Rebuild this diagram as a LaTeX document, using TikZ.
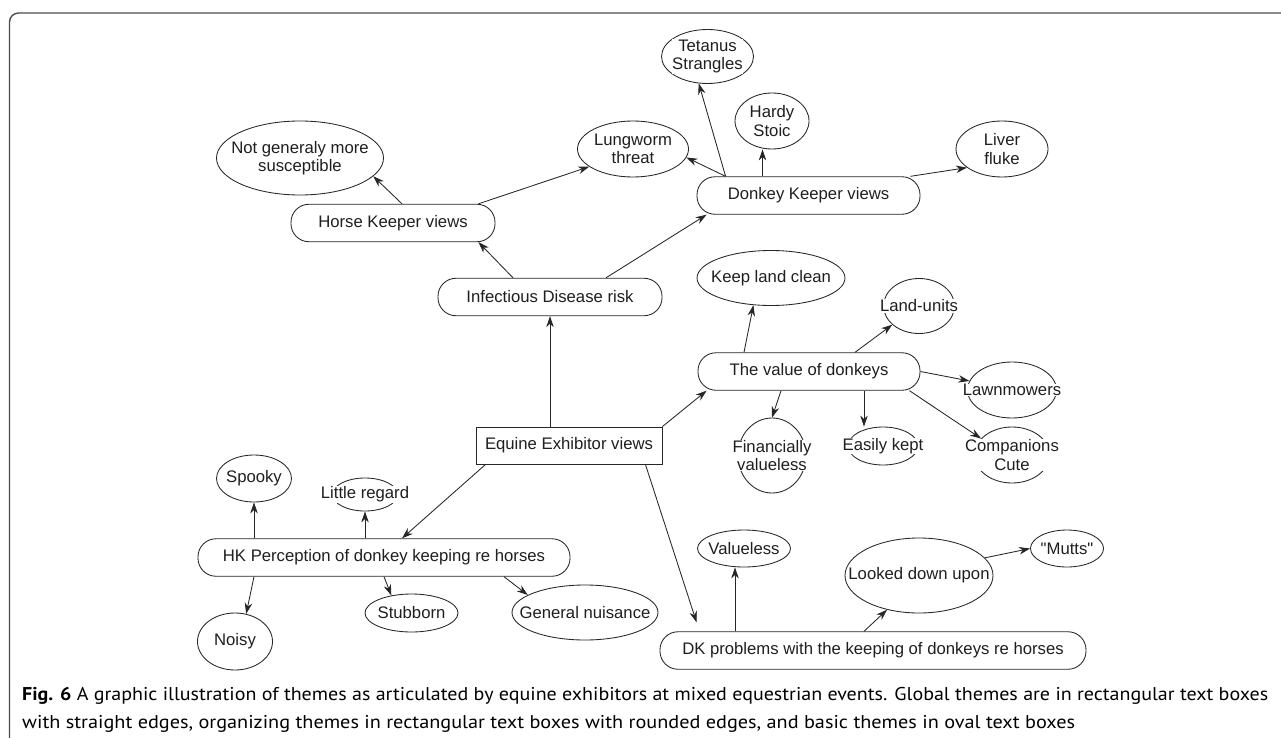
\documentclass[tikz,border=0pt]{standalone}
\usepackage{fontspec}
\usepackage{graphicx}
\setmainfont{Liberation Sans}
\newfontfamily\qfont{Liberation Sans}
\newfontfamily\capfont{PT Sans}
\usetikzlibrary{shapes.geometric,arrows.meta}
\newsavebox\caponebox
\newsavebox\captwobox
\newdimen\capw
\newdimen\capwtwo
\begin{document}
\sbox\caponebox{\capfont\fontsize{18.5}{22}\selectfont\textbf{Fig. 6} A graphic illustration of themes as articulated by equine exhibitors at mixed equestrian events. Global themes are in rectangular text boxes}%
\sbox\captwobox{\capfont\fontsize{18.5}{22}\selectfont with straight edges, organizing themes in rectangular text boxes with rounded edges, and basic themes in oval text boxes}%
\capw=\wd\caponebox
\capwtwo=\wd\captwobox
\pgfmathsetmacro\capsx{1246pt/\capw}%
\pgfmathsetmacro\capsxtwo{1053pt/\capwtwo}%
\begin{tikzpicture}[x=1pt,y=-1pt,
  every node/.style={font=\fontsize{16.7}{19}\selectfont, text=black!88},
  pill/.style={draw=black!85, line width=0.85pt, rounded corners=18pt, minimum width=#1, minimum height=37.5pt, inner sep=0pt},
  gbox/.style={draw=black!85, line width=0.85pt, rectangle, minimum width=#1, minimum height=37pt, inner sep=0pt},
  oval/.style 2 args={draw=black!85, line width=0.85pt, ellipse, minimum width=#1, minimum height=#2, inner sep=0pt},
  lbl/.style={fill=white, inner sep=0.4pt, align=center, font=\fontsize{16.7}{18.5}\selectfont},
  arr/.style={-{Stealth[length=11pt,width=7.5pt,inset=3.5pt]}, line width=0.85pt, draw=black!85}
]
\fill[white] (0,0) rectangle (1281,738);
\useasboundingbox (0,0) rectangle (1281,738);
\draw[line width=1.4pt, black!70, rounded corners=9pt] (9.5,745) -- (9.5,13) -- (1290,13);

% global theme
\node[gbox=186pt] (eq) at (569,445.5) {Equine Exhibitor views};
% organizing themes
\node[pill=224pt] (idr) at (550,297) {Infectious Disease risk};
\node[pill=204pt] (hkv) at (393,223) {Horse Keeper views};
\node[pill=223pt] (dkv) at (808.5,195.5) {Donkey Keeper views};
\node[pill=222pt] (val) at (809,371.5) {The value of donkeys};
\node[pill=372pt] (hkp) at (384,557.5) {HK Perception of donkey keeping re horses};
\node[pill=426pt] (dkp) at (873,650.5) {DK problems with the keeping of donkeys re horses};
% basic themes
\node[oval={167pt}{74pt}, label={[lbl]center:{Not generaly more\\susceptible}}] (ngm) at (300,158) {};
\node[oval={111pt}{56pt}, label={[lbl]center:{Lungworm\\threat}}] (lung) at (633,149) {};
\node[oval={92pt}{54pt}, label={[lbl]center:{Tetanus\\Strangles}}] (tet) at (707.5,56.5) {};
\node[oval={74pt}{56pt}, label={[lbl]center:{Hardy\\Stoic}}] (hardy) at (772,121) {};
\node[oval={92pt}{56pt}, label={[lbl]center:{Liver\\fluke}}] (liver) at (1002,149) {};
\node[oval={148pt}{55pt}, label={[lbl]center:{Keep land clean}}] (klc) at (771,278) {};
\node[oval={71pt}{55pt}, label={[lbl]center:{Land-units}}] (land) at (919,306) {};
\node[oval={89pt}{56pt}, label={[lbl]center:{Lawnmowers}}] (lawn) at (1012,390) {};
\node[oval={68pt}{75pt}, label={[lbl]center:{Financially\\valueless}}] (fin) at (772,455.5) {};
\node[oval={70pt}{38pt}, label={[lbl]center:{Easily kept}}] (easy) at (883,446) {};
\node[oval={75pt}{56pt}, label={[lbl]center:{Companions\\Cute}}] (comp) at (1012,455) {};
\node[oval={93pt}{37pt}, label={[lbl]center:{Valueless}}] (vless) at (744,548.5) {};
\node[oval={148pt}{75pt}, label={[lbl]center:{Looked down upon}}] (looked) at (919,575.5) {};
\node[oval={73pt}{37pt}, label={[lbl]center:{\qfont"Mutts"}}] (mutts) at (1067,548.5) {};
\node[oval={75pt}{47pt}, label={[lbl]center:{Spooky}}] (spooky) at (254,478.5) {};
\node[oval={65pt}{33pt}, label={[lbl]center:{Little regard}}] (little) at (365,494.5) {};
\node[oval={75pt}{57pt}, label={[lbl]center:{Noisy}}] (noisy) at (235,641.5) {};
\node[oval={93pt}{38pt}, label={[lbl]center:{Stubborn}}] (stub) at (411.5,613) {};
\node[oval={146pt}{55pt}, label={[lbl]center:{General nuisance}}] (gen) at (585,612.5) {};

% connectors
\coordinate (dktip) at ([shift={(37,-9)}]dkp.north west);
\draw[arr] (idr.south |- eq.north) -- (idr.south);
\draw[arr] (eq.north east) -- ([xshift=9pt]val.south west);
\draw[arr] ([xshift=10pt]eq.south west) -- ([xshift=18pt]hkp.north);
\draw[arr] ([xshift=-17pt]eq.south east) -- (dktip);
\draw[arr] ([xshift=-37pt]idr.north) -- ([xshift=-17pt]hkv.south east);
\draw[arr] ([xshift=56pt]idr.north) -- ([xshift=10pt]dkv.south west);
\draw[arr] ([xshift=9pt]hkv.north) -- (ngm.-14);
\draw[arr] ([xshift=-17pt]hkv.north east) -- (lung.202);
\draw[arr] ([xshift=29pt]dkv.north west) -- (lung.-9);
\draw[arr] ([xshift=29pt]dkv.north west) -- (tet.252);
\draw[arr] ([xshift=-46pt]dkv.north) -- ([xshift=-46pt]dkv.north |- hardy.south);
\draw[arr] ([xshift=-10pt]dkv.north east) -- (liver.208);
\draw[arr] ([xshift=-65pt]val.north) -- (klc.237);
\draw[arr] ([xshift=46pt]val.north) -- (land.215);
\draw[arr] (val.east) -- (lawn.168);
\draw[arr] ([xshift=-28pt]val.south) -- (fin.north);
\draw[arr] ([xshift=55pt]val.south) -- ([xshift=55pt]val.south |- easy.north);
\draw[arr] ([xshift=-11pt]val.south east) -- (comp.152);
\draw[arr] ([xshift=-130pt]hkp.north) -- (spooky.south);
\draw[arr] ([xshift=-19pt]hkp.north) -- (little.south);
\draw[arr] ([xshift=-130pt]hkp.south) -- (noisy.68);
\draw[arr] (hkp.south) -- (stub.139);
\draw[arr] ([xshift=120pt]hkp.south) -- (gen.163);
\draw[arr] ([xshift=-138pt]dkp.north) -- ([xshift=-138pt]dkp.north |- vless.south);
\draw[arr] ([xshift=-9pt]dkp.north) -- (looked.227);
\draw[arr] (looked.15) -- (mutts.west);

% caption
\node[anchor=base west, inner sep=0pt, text=black!78] (cap1) at (22,700) {\scalebox{\capsx}[1]{\usebox\caponebox}};
\node[anchor=base west, inner sep=0pt, text=black!78] (cap2) at (22,728) {\scalebox{\capsxtwo}[1]{\usebox\captwobox}};
\end{tikzpicture}
\end{document}
